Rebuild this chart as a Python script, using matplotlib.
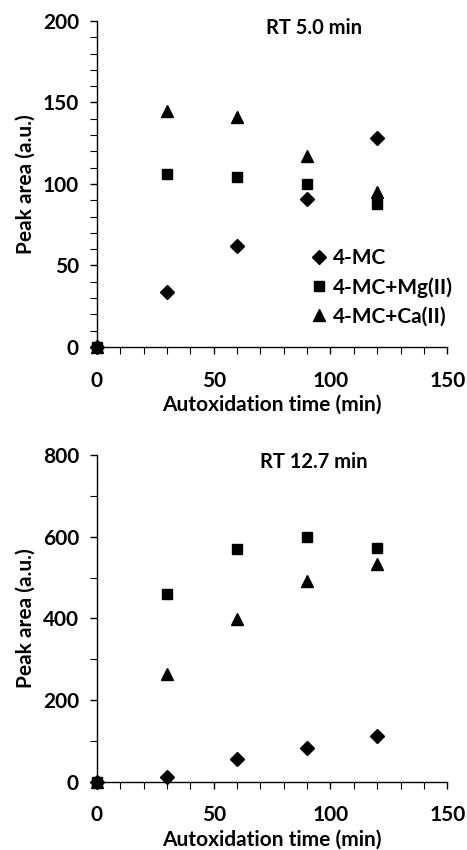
import matplotlib.pyplot as plt
from matplotlib.ticker import MultipleLocator

plt.rcParams['font.family'] = ['Lato', 'DejaVu Sans']
plt.rcParams['font.weight'] = 'bold'

time = [0, 30, 60, 90, 120]
series = ['4-MC', '4-MC+Mg(II)', '4-MC+Ca(II)']
markers = ['D', 's', '^']
msizes = [7, 7.5, 8.5]

rt5_mc = [0, 34, 62, 91, 128]
rt5_mg = [0, 106, 104, 100, 88]
rt5_ca = [0, 145, 141, 117, 95]

rt12_mc = [0, 12, 55, 83, 111]
rt12_mg = [0, 460, 569, 599, 572]
rt12_ca = [0, 264, 398, 491, 533]

fig = plt.figure(figsize=(4.67, 8.5), dpi=100)
ax1 = fig.add_axes([0.2077, 0.5918, 0.75, 0.3835])
ax2 = fig.add_axes([0.2077, 0.0804, 0.75, 0.3843])

panels = [
    (ax1, [rt5_mc, rt5_mg, rt5_ca], 200, 50, 10, 'RT 5.0 min'),
    (ax2, [rt12_mc, rt12_mg, rt12_ca], 800, 200, 100, 'RT 12.7 min'),
]

for ax, data, ymax, ymaj, ymin, title in panels:
    for vals, name, m, ms in zip(data, series, markers, msizes):
        ax.plot(time, vals, linestyle='none', marker=m, markersize=ms,
                color='black', label=name, clip_on=False, zorder=3)
    ax.set_xlim(0, 150)
    ax.set_ylim(0, ymax)
    ax.xaxis.set_major_locator(MultipleLocator(50))
    ax.xaxis.set_minor_locator(MultipleLocator(10))
    ax.yaxis.set_major_locator(MultipleLocator(ymaj))
    ax.yaxis.set_minor_locator(MultipleLocator(ymin))
    for s in ['top', 'right']:
        ax.spines[s].set_visible(False)
    for s in ['left', 'bottom']:
        ax.spines[s].set_linewidth(1.0)
    ax.tick_params(which='major', direction='out', length=5, width=1,
                   labelsize=15)
    ax.tick_params(axis='x', which='major', pad=12)
    ax.tick_params(axis='y', which='major', pad=8)
    ax.tick_params(which='minor', direction='out', length=5, width=0.8)
    for lab in ax.get_xticklabels() + ax.get_yticklabels():
        lab.set_fontweight('bold')
    ax.set_xlabel('Autoxidation time (min)', fontsize=15, fontweight='bold', labelpad=3)
    ax.set_ylabel('Peak area (a.u.)', fontsize=15, fontweight='bold', labelpad=5)
    ax.text(0.62, 0.98, title, transform=ax.transAxes, ha='center', va='center',
            fontsize=14.5, fontweight='bold')

leg = ax1.legend(loc='upper left', bbox_to_anchor=(0.575, 0.335), frameon=False,
                 fontsize=15, handletextpad=0.15, labelspacing=0.42,
                 borderpad=0, handlelength=1.0)
for t in leg.get_texts():
    t.set_fontweight('bold')

fig.savefig('out.png', dpi=100)
